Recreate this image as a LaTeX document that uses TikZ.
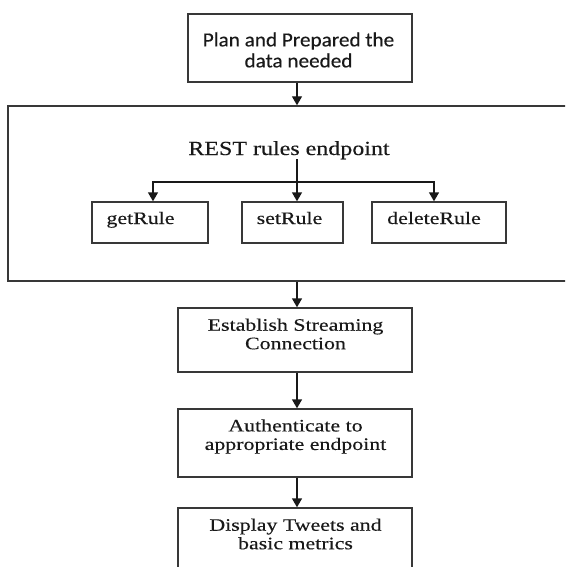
\documentclass[tikz,border=0pt]{standalone}
\usepackage{fontspec}
\setmainfont{Liberation Serif}
\newfontfamily\tnr[FakeStretch=1.25,FakeBold=0.3]{Liberation Serif}
\newfontfamily\tnrb[FakeStretch=1.2,FakeBold=0.3]{Liberation Serif}
\newfontfamily\calfont[FakeStretch=1.06,FakeBold=0.25]{Carlito}
\usetikzlibrary{arrows.meta}
\begin{document}
\begin{tikzpicture}[x=1pt,y=-1pt,
  box/.style={draw=black!78, line width=1.4pt, rectangle, inner sep=0pt},
  txt/.style={align=center, inner sep=0pt, text=black!90},
  serif/.style={txt, font=\tnr\fontsize{17.5pt}{18.5pt}\selectfont},
  conn/.style={draw=black!90, line width=1.4pt, -{Triangle[width=10pt,length=9pt]}},
  plain/.style={draw=black!90, line width=1.4pt}]
\useasboundingbox (0,0) rectangle (565,567);
\fill[white] (0,0) rectangle (565,567);
\begin{scope}
\clip (0,0) rectangle (565,567);
% top box
\node[box, minimum width=224pt, minimum height=68pt] (plan) at (300,48) {};
\node[txt, font=\calfont\fontsize{20pt}{21pt}\selectfont] (planT) at (298.5,50) {Plan and Prepared the\\data needed};
% big box
\node[box, minimum width=570pt, minimum height=175pt] (rest) at (293,193.5) {};
\node[txt, font=\tnrb\fontsize{20pt}{22pt}\selectfont, anchor=base] (restT) at (289,155) {REST rules endpoint};
\coordinate (hub) at (297,182);
% inner boxes
\node[box, minimum width=116pt, minimum height=41pt] (get) at (150,222.5) {};
\node[serif, anchor=base] (getT) at (140.5,224) {getRule};
\node[box, minimum width=101pt, minimum height=41pt] (set) at (292.5,222.5) {};
\node[serif, anchor=base] (setT) at (289.5,224) {setRule};
\node[box, minimum width=134pt, minimum height=41pt] (del) at (439,222.5) {};
\node[serif, anchor=base] (delT) at (434,224) {deleteRule};
% lower boxes
\node[box, minimum width=234pt, minimum height=64pt] (est) at (295,340) {};
\node[serif] (estT) at (295.5,334) {Establish Streaming\\Connection};
\node[box, minimum width=234pt, minimum height=68pt] (auth) at (295,443) {};
\node[serif] (authT) at (295.5,436.5) {Authenticate to\\appropriate endpoint};
\node[box, minimum width=234pt, minimum height=80pt] (disp) at (295,548) {};
\node[serif] (dispT) at (295.5,534) {Display Tweets and\\basic metrics};
% connectors
\draw[conn] (plan.south -| hub) -- (rest.north -| hub);
\draw[plain] (restT.south -| hub) -- (hub);
\draw[conn] (hub) -- (set.north -| hub);
\draw[conn] (hub) -| ([xshift=3pt]get.north);
\draw[conn] (hub) -| ([xshift=-5pt]del.north);
\draw[conn] (rest.south -| hub) -- (est.north -| hub);
\draw[conn] (est.south -| hub) -- (auth.north -| hub);
\draw[conn] (auth.south -| hub) -- (disp.north -| hub);
\end{scope}
\end{tikzpicture}
\end{document}
